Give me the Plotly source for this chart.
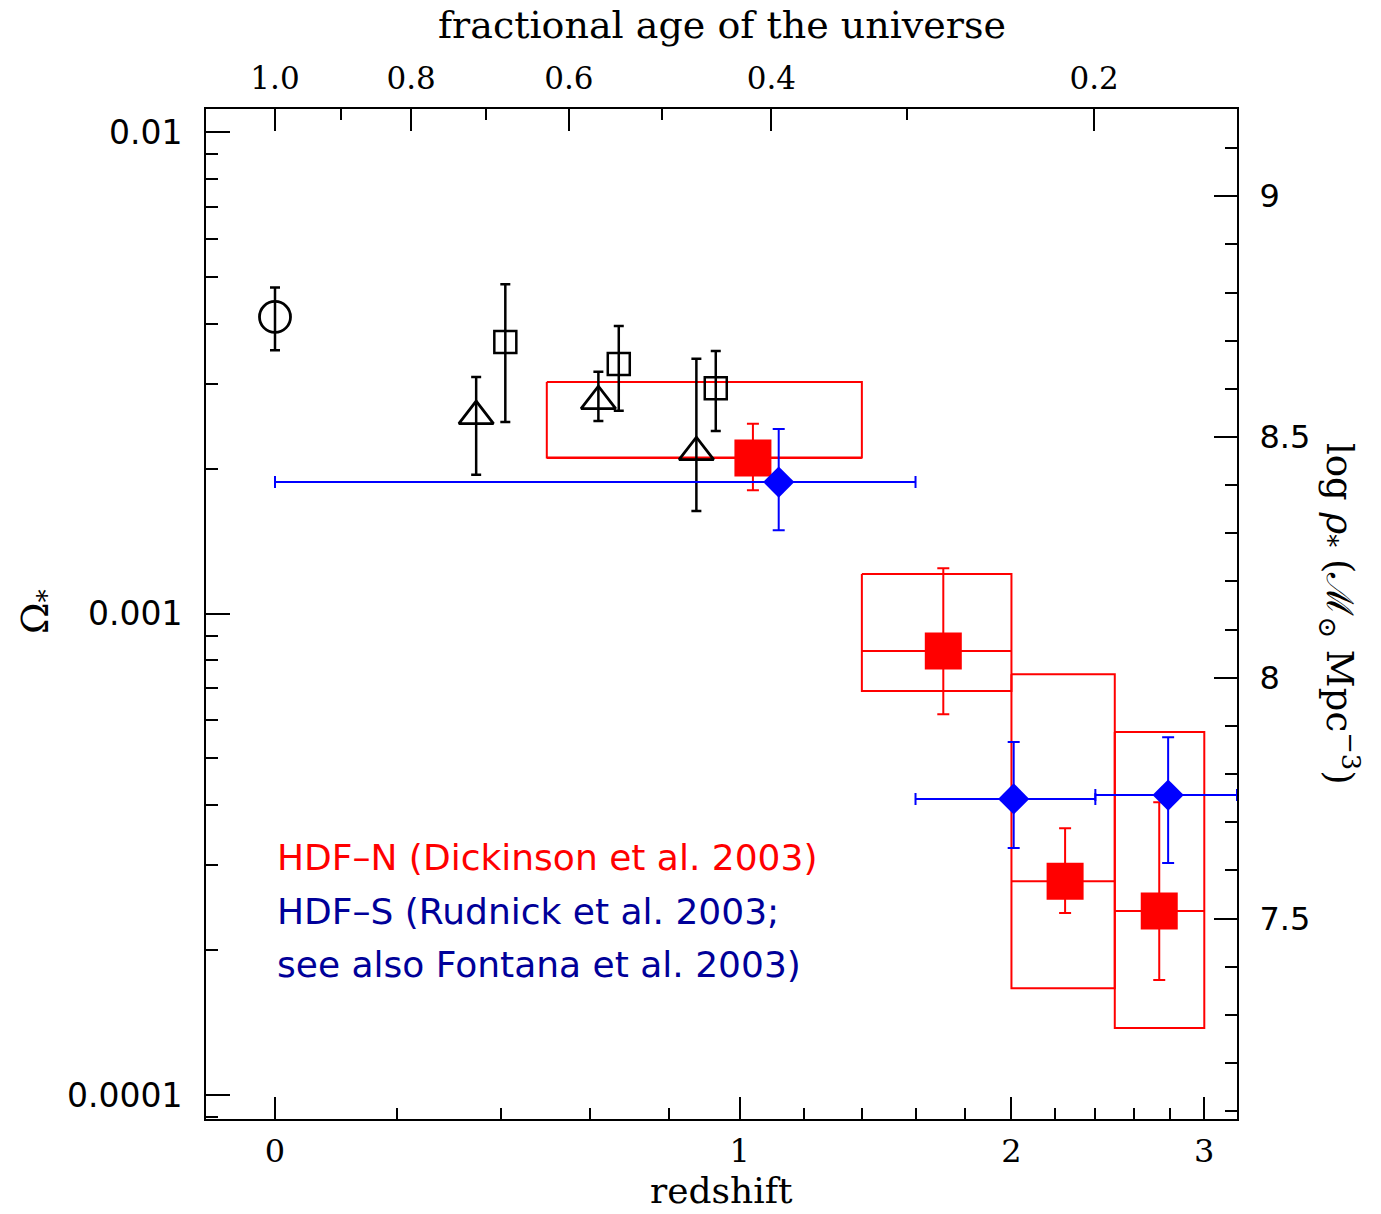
import numpy as np
import plotly.graph_objects as go

# ---------------------------------------------------------------
# Stellar mass density (Omega_*) versus redshift
# values are log10(Omega_*); errors given as upper / lower bounds
# ---------------------------------------------------------------

# local value (z = 0)
local_z = [0.0]
local_logom = [-2.384]
local_logom_hi = [-2.323]
local_logom_lo = [-2.453]

# intermediate-redshift samples (open triangles)
tri_z = [0.35, 0.62, 0.875]
tri_logom = [-2.590, -2.559, -2.665]
tri_logom_hi = [-2.509, -2.498, -2.471]
tri_logom_lo = [-2.712, -2.600, -2.787]

# intermediate-redshift samples (open squares)
sq_z = [0.41, 0.67, 0.93]
sq_logom = [-2.436, -2.482, -2.532]
sq_logom_hi = [-2.316, -2.403, -2.455]
sq_logom_lo = [-2.602, -2.579, -2.621]

# HDF-N (Dickinson et al. 2003)
hdfn_z = [1.04, 1.71, 2.25, 2.74]
hdfn_logom = [-2.677, -3.078, -3.556, -3.618]
hdfn_logom_hi = [-2.606, -2.906, -3.446, -3.392]
hdfn_logom_lo = [-2.744, -3.209, -3.622, -3.761]

# HDF-N systematic range boxes (redshift bin, model range)
box_z_lo = [0.5, 1.4, 2.0, 2.5]
box_z_hi = [1.4, 2.0, 2.5, 3.0]
box_logom_top = [-2.519, -2.918, -3.126, -3.246]
box_logom_bot = [-2.676, -3.161, -3.778, -3.861]

# HDF-S (Rudnick et al. 2003)
hdfs_z = [1.12, 2.01, 2.79]
hdfs_z_lo = [0.0, 1.6, 2.4]
hdfs_z_hi = [1.6, 2.4, 3.2]
hdfs_logom = [-2.727, -3.385, -3.377]
hdfs_logom_hi = [-2.617, -3.267, -3.257]
hdfs_logom_lo = [-2.827, -3.487, -3.518]

# axis labelling
z_ticks = [0, 1, 2, 3]
z_minor = [0.2, 0.4, 0.6, 0.8, 1.2, 1.4, 1.6, 1.8, 2.2, 2.4, 2.6, 2.8]
age_ticks = [1.0, 0.8, 0.6, 0.4, 0.2]
age_minor = [0.9, 0.7, 0.5, 0.3]
om_ticks = [1e-4, 1e-3, 1e-2]
om_ticktext = ["0.0001", "0.001", "0.01"]
rho_ticks = [7.5, 8.0, 8.5, 9.0]
rho_ticktext = ["7.5", "8", "8.5", "9"]

# cosmology: flat, Omega_m = 0.3, Omega_L = 0.7, h = 0.7
OM, OL, h = 0.3, 0.7, 0.7
log_rho_crit = np.log10(2.775e11 * h ** 2)   # Msun / Mpc^3


def one_plus_z_at_age_fraction(frac):
    q = np.sqrt(OL / OM)
    a15 = np.sinh(np.asarray(frac) * np.arcsinh(q)) / q
    return 1.0 / a15 ** (2.0 / 3.0)


def om(v):
    return 10.0 ** np.asarray(v, dtype=float)


def opz(z):
    return 1.0 + np.asarray(z, dtype=float)


BLACK = "#000000"
RED = "#ff0000"
BLUE = "#0000ff"
NAVY = "#000099"

fig = go.Figure()

# HDF-N range boxes with a line at the measured value
bx, by = [], []
for zl, zh, top, bot, mid in zip(box_z_lo, box_z_hi, box_logom_top, box_logom_bot, hdfn_logom):
    bx += [opz(zl), opz(zh), opz(zh), opz(zl), opz(zl), None, opz(zl), opz(zh), None]
    by += [om(top), om(top), om(bot), om(bot), om(top), None, om(mid), om(mid), None]
fig.add_trace(go.Scatter(x=bx, y=by, mode="lines", line=dict(color=RED, width=2),
                         showlegend=False, hoverinfo="skip"))


def points(z, v, hi, lo, symbol, size, color, lw, cap, thick=2):
    y = om(v)
    return go.Scatter(
        x=opz(z), y=y, mode="markers", showlegend=False,
        marker=dict(symbol=symbol, size=size, color=color,
                    line=dict(color=color, width=lw)),
        error_y=dict(type="data", symmetric=False,
                     array=om(hi) - y, arrayminus=y - om(lo),
                     color=color, thickness=thick, width=cap),
    )


fig.add_trace(points(hdfn_z, hdfn_logom, hdfn_logom_hi, hdfn_logom_lo,
                     "square", 37, RED, 0, 6))
fig.add_trace(points(local_z, local_logom, local_logom_hi, local_logom_lo,
                     "circle-open", 31, BLACK, 2.8, 5, 2.5))
fig.add_trace(points(tri_z, tri_logom, tri_logom_hi, tri_logom_lo,
                     "triangle-up-open", 30, BLACK, 2.8, 5, 2.5))
fig.add_trace(points(sq_z, sq_logom, sq_logom_hi, sq_logom_lo,
                     "square-open", 22, BLACK, 2.5, 5, 2.5))

hdfs = points(hdfs_z, hdfs_logom, hdfs_logom_hi, hdfs_logom_lo, "diamond", 24, BLUE, 0, 6)
hdfs.error_x = dict(type="data", symmetric=False,
                    array=opz(hdfs_z_hi) - opz(hdfs_z),
                    arrayminus=opz(hdfs_z) - opz(hdfs_z_lo),
                    color=BLUE, thickness=2, width=6)
fig.add_trace(hdfs)

# carrier trace for the secondary axes
fig.add_trace(go.Scatter(x=[None], y=[None], xaxis="x2", yaxis="y2",
                         showlegend=False, hoverinfo="skip"))

# axis ranges
x_range = [-0.0447, np.log10(4.2)]
y_range = [-4.0498, -1.9522]
rho_range = [y_range[0] + log_rho_crit, y_range[1] + log_rho_crit]

SERIF = "DejaVu Serif"
SANS = "DejaVu Sans"

om_minor = [m * 10.0 ** e for e in (-5, -4, -3, -2) for m in range(2, 10)]

common = dict(showline=True, linewidth=2, linecolor=BLACK, ticks="inside",
              tickwidth=2, tickcolor=BLACK, showgrid=False, zeroline=False)

fig.update_layout(
    width=1381, height=1214,
    margin=dict(l=206, r=144, t=109, b=95),
    paper_bgcolor="white", plot_bgcolor="white",
    xaxis=dict(type="log", range=x_range, tickmode="array",
               tickvals=list(opz(z_ticks)), ticktext=[str(t) for t in z_ticks],
               ticklen=22, ticklabelstandoff=3,
               tickfont=dict(family=SERIF, size=32, color=BLACK),
               minor=dict(tickmode="array", tickvals=list(opz(z_minor)),
                          ticks="inside", ticklen=11, tickwidth=2, tickcolor=BLACK),
               **common),
    xaxis2=dict(type="log", range=x_range, overlaying="x", side="top",
                tickmode="array",
                tickvals=list(one_plus_z_at_age_fraction(age_ticks)),
                ticktext=["%.1f" % a for a in age_ticks],
                ticklen=22, ticklabelstandoff=6,
                tickfont=dict(family=SERIF, size=31, color=BLACK),
                minor=dict(tickmode="array",
                           tickvals=list(one_plus_z_at_age_fraction(age_minor)),
                           ticks="inside", ticklen=11, tickwidth=2, tickcolor=BLACK),
                **common),
    yaxis=dict(type="log", range=y_range, tickmode="array",
               tickvals=om_ticks, ticktext=om_ticktext,
               ticklen=24, ticklabelstandoff=15,
               tickfont=dict(family=SANS, size=33, color=BLACK),
               minor=dict(tickmode="array", tickvals=om_minor,
                          ticks="inside", ticklen=12, tickwidth=2, tickcolor=BLACK),
               **common),
    yaxis2=dict(range=rho_range, overlaying="y", side="right", tickmode="array",
                tickvals=rho_ticks, ticktext=rho_ticktext,
                ticklen=23, ticklabelstandoff=14,
                tickfont=dict(family=SANS, size=32, color=BLACK),
                minor=dict(dtick=0.1, tick0=7.0, ticks="inside", ticklen=12,
                           tickwidth=2, tickcolor=BLACK),
                **common),
)

annotations = [
    dict(text="redshift", x=0.5, y=-0.0932, yanchor="bottom",
         font=dict(family=SERIF, size=36)),
    dict(text="fractional age of the universe", x=0.5, y=1.0832,
         font=dict(family=SERIF, size=38)),
    dict(text="Ω<sub>*</sub>", x=-0.163, y=0.503, textangle=-90,
         font=dict(family=SERIF, size=38)),
    dict(text="log <i>ρ</i><sub>*</sub> (ℳ<sub>⊙</sub> Mpc<sup>−3</sup>)",
         x=1.1, y=0.5, textangle=90, font=dict(family=SERIF, size=37)),
    dict(text="HDF–N (Dickinson et al. 2003)", x=0.0669, y=0.2594, xanchor="left",
         font=dict(family=SANS, size=36, color=RED)),
    dict(text="HDF–S (Rudnick et al. 2003;", x=0.0669, y=0.2059, xanchor="left",
         font=dict(family=SANS, size=36, color=NAVY)),
    dict(text="see also Fontana et al. 2003)", x=0.0669, y=0.1525, xanchor="left",
         font=dict(family=SANS, size=36, color=NAVY)),
]
for a in annotations:
    a.setdefault("xanchor", "center")
    a.setdefault("yanchor", "middle")
    a.update(xref="paper", yref="paper", showarrow=False)
    a["font"].setdefault("color", BLACK)
fig.update_layout(annotations=annotations)

fig.write_html("out.html")
